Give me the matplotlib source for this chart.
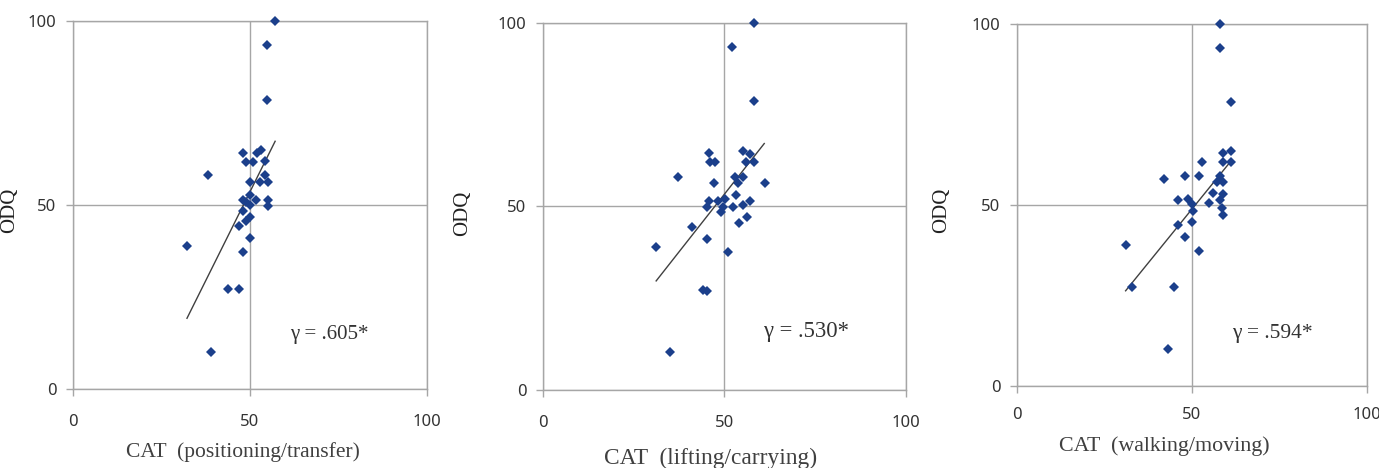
import matplotlib
matplotlib.use("Agg")
import matplotlib.pyplot as plt

# ---- data ----
pos_x = [57.1, 54.9, 54.9, 48.1, 52.1, 53.2, 49.0, 50.9, 54.2, 38.0, 50.0, 52.8, 54.2, 55.1,
         48.1, 50.0, 51.8, 55.1, 55.1, 49.0, 50.1, 48.1, 50.1, 49.0, 46.9, 50.1, 32.2, 48.1,
         43.9, 46.9, 39.0]
pos_y = [100.0, 93.5, 78.6, 64.3, 64.3, 65.0, 61.9, 61.9, 62.0, 58.1, 56.3, 56.3, 58.2, 56.3,
         51.4, 52.8, 51.4, 51.4, 49.8, 51.0, 50.1, 48.5, 46.9, 45.6, 44.5, 41.0, 38.9, 37.4,
         27.2, 27.2, 10.2]
pos_fit_x = [32.2, 57.1]
pos_fit_y = [19.3, 67.4]

lift_x = [58.1, 52.2, 58.1, 45.9, 46.0, 47.4, 55.1, 57.1, 56.0, 58.2, 37.1, 47.2, 52.9, 55.1,
          53.9, 61.2, 53.2, 45.9, 48.3, 50.2, 45.1, 49.7, 52.5, 55.1, 57.1, 49.0, 56.2, 54.1,
          41.1, 45.1, 31.2, 51.1, 44.2, 45.1, 35.0]
lift_y = [100.0, 93.5, 78.6, 64.4, 62.0, 62.0, 65.1, 64.2, 62.0, 62.0, 58.1, 56.3, 58.1, 58.1,
          56.3, 56.3, 53.1, 51.5, 51.5, 52.0, 49.9, 49.9, 49.9, 50.5, 51.5, 48.4, 47.0, 45.4,
          44.5, 41.1, 38.9, 37.5, 27.2, 27.0, 10.3]
lift_fit_x = [31.2, 61.0]
lift_fit_y = [29.7, 67.1]

walk_x = [58.0, 58.0, 61.1, 59.0, 61.1, 59.0, 61.2, 53.0, 42.1, 48.0, 52.0, 58.0, 57.1, 59.0,
          55.9, 59.0, 45.9, 48.9, 50.1, 55.0, 58.0, 58.7, 50.4, 59.0, 50.1, 45.9, 48.0, 31.0,
          52.1, 32.7, 44.9, 43.0]
walk_y = [100.0, 93.5, 78.5, 64.3, 65.0, 62.0, 62.0, 62.0, 57.1, 58.1, 58.1, 58.1, 56.3, 56.3,
          53.2, 53.0, 51.4, 51.7, 50.2, 50.6, 51.4, 49.1, 48.4, 47.1, 45.4, 44.5, 41.1, 38.9,
          37.4, 27.3, 27.3, 10.2]
walk_fit_x = [31.0, 61.2]
walk_fit_y = [26.3, 62.2]

x_labels = ["CAT  (positioning/transfer)", "CAT  (lifting/carrying)", "CAT  (walking/moving)"]
r_labels = ["\u03b3 = .605*", "\u03b3 = .530*", "\u03b3 = .594*"]
ticks = [0, 50, 100]

# ---- layout ----
W, H = 1379, 468
fig = plt.figure(figsize=(W / 100, H / 100), dpi=100)

boxes = [(73, 427, 21.3, 389.3), (543, 905.7, 22.7, 390), (1017.3, 1366.7, 24, 386)]
xlab_pos = [(0.48, -0.170), (0.463, -0.185), (0.42, -0.166)]
ylab_pos = [(-0.178, 0.487), (-0.222, 0.482), (-0.216, 0.486)]
r_pos = [(61.2, 14.8), (60.8, 15.9), (61.4, 14.5)]
xpads = [14, 14, 11]
xlab_size = [15.5, 16.8, 15.8]
r_size = [15.0, 16.3, 15.5]

series = [(pos_x, pos_y, pos_fit_x, pos_fit_y),
          (lift_x, lift_y, lift_fit_x, lift_fit_y),
          (walk_x, walk_y, walk_fit_x, walk_fit_y)]

grid_c = "#a6a6a6"
mark_c = "#1b3f8b"
serif = ["Liberation Serif", "DejaVu Serif"]

for i, (l, r, t, b) in enumerate(boxes):
    ax = fig.add_axes([l / W, (H - b) / H, (r - l) / W, (b - t) / H])
    xs, ys, fx, fy = series[i]
    ax.set_xlim(0, 100)
    ax.set_ylim(0, 100)
    ax.set_xticks(ticks)
    ax.set_yticks(ticks)
    ax.grid(True, color=grid_c, linewidth=1.0, zorder=0)
    for s in ax.spines.values():
        s.set_color(grid_c)
        s.set_linewidth(1.0)
    ax.tick_params(axis="both", colors=grid_c, length=5, width=1.0,
                   labelcolor="#333333", labelsize=12)
    ax.tick_params(axis="x", pad=xpads[i] - 1)
    ax.tick_params(axis="y", pad=7)
    for lab in ax.get_xticklabels() + ax.get_yticklabels():
        lab.set_fontfamily("Noto Sans")
    ax.plot(fx, fy, color="#404040", linewidth=1.0, zorder=2)
    ax.plot(xs, ys, linestyle="none", marker="D", markersize=4.6,
            color=mark_c, markeredgewidth=0, zorder=3, clip_on=False)
    ax.text(r_pos[i][0], r_pos[i][1], r_labels[i], fontsize=r_size[i],
            family=serif, color="#333333", va="center", ha="left")
    ax.set_xlabel(x_labels[i], fontsize=xlab_size[i], family=serif, color="#404040")
    ax.xaxis.set_label_coords(*xlab_pos[i])
    ax.xaxis.label.set_va("center")
    ax.set_ylabel("ODQ", fontsize=15, family=serif, color="#222222")
    ax.yaxis.set_label_coords(*ylab_pos[i])
    ax.yaxis.label.set_va("center")

fig.savefig("out.png", dpi=100)
